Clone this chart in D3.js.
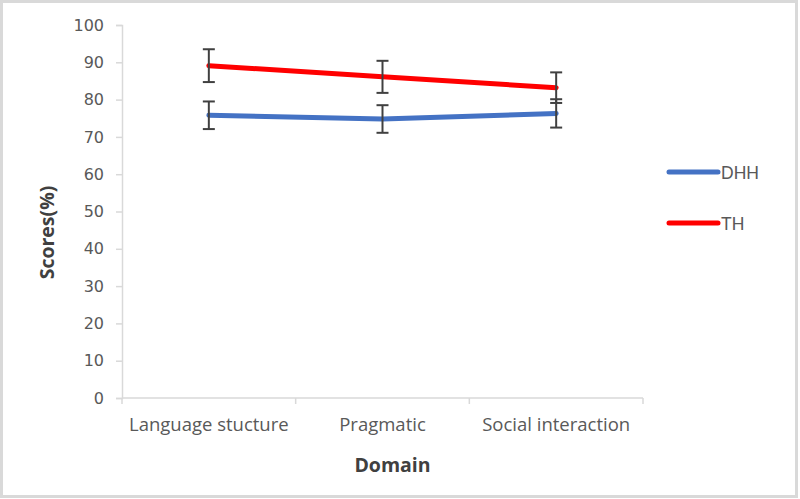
<!DOCTYPE html>
<html>
<head>
<meta charset="utf-8">
<script src="https://cdn.jsdelivr.net/npm/d3@7"></script>
<style>
  body { margin: 0; background: #fff; }
  svg { display: block; }
</style>
</head>
<body>
<div id="chart"></div>
<script>
// chart data
const domains = ["Language stucture", "Pragmatic", "Social interaction"];
const seriesNames = ["DHH", "TH"];
const dhhScores = [75.8, 74.8, 76.3];
const dhhErrors = [3.7, 3.7, 3.8];
const thScores = [89.1, 86.1, 83.2];
const thErrors = [4.4, 4.3, 4.1];
const yTicks = [0, 10, 20, 30, 40, 50, 60, 70, 80, 90, 100];
const colors = ["#4472C4", "#FF0000"];

const W = 800, H = 499;
const margin = { left: 122, right: 157, top: 25, bottom: 101 };
const w = W - margin.left - margin.right;
const h = H - margin.top - margin.bottom;

var svg = d3.select("#chart").append("svg")
  .attr("width", W)
  .attr("height", H);

// outer frame
svg.append("rect")
  .attr("x", 1.5).attr("y", 1.5)
  .attr("width", W - 5).attr("height", H - 4)
  .attr("fill", "#fff")
  .attr("stroke", "#d9d9d9")
  .attr("stroke-width", 3);

var g = svg.append("g")
  .attr("transform", "translate(" + margin.left + "," + margin.top + ")");

var x = d3.scaleBand().domain(domains).range([0, w]);
var y = d3.scaleLinear().domain([0, 100]).range([h, 0]);

// y axis
var yAxis = g.append("g")
  .call(d3.axisLeft(y).tickValues(yTicks).tickSize(6).tickPadding(12));
yAxis.select(".domain").attr("stroke", "#d9d9d9").attr("stroke-width", 1.5);
yAxis.selectAll(".tick line").attr("stroke", "#d9d9d9").attr("stroke-width", 1.5);
yAxis.selectAll("text")
  .attr("fill", "#595959")
  .style("font-family", "'DejaVu Sans', sans-serif")
  .style("font-size", "16px");

// x axis: ticks sit on the category boundaries
var xAxis = g.append("g").attr("transform", "translate(0," + h + ")");
xAxis.append("line")
  .attr("x1", 0).attr("x2", w)
  .attr("stroke", "#d9d9d9").attr("stroke-width", 1.5);
xAxis.selectAll("line.tk")
  .data([0].concat(domains.map(d => x(d) + x.bandwidth())))
  .enter().append("line")
  .attr("class", "tk")
  .attr("x1", d => d).attr("x2", d => d)
  .attr("y1", 0).attr("y2", 6)
  .attr("stroke", "#d9d9d9").attr("stroke-width", 1.5);
xAxis.selectAll("text")
  .data(domains)
  .enter().append("text")
  .attr("x", d => x(d) + x.bandwidth() / 2)
  .attr("y", 33)
  .attr("text-anchor", "middle")
  .attr("fill", "#595959")
  .style("font-family", "'Open Sans', sans-serif")
  .style("font-size", "18.5px")
  .text(d => d);

// axis titles (Excel puts them a little off centre)
g.append("text")
  .attr("transform", "translate(" + (-68) + "," + (h / 2 + 21) + ") rotate(-90)")
  .attr("text-anchor", "middle")
  .attr("fill", "#404040")
  .style("font-family", "'Open Sans', sans-serif")
  .style("font-size", "19.5px")
  .style("font-weight", "bold")
  .text("Scores(%)");
g.append("text")
  .attr("x", w / 2 + 10)
  .attr("y", h + 74)
  .attr("text-anchor", "middle")
  .attr("fill", "#404040")
  .style("font-family", "'Open Sans', sans-serif")
  .style("font-size", "19.5px")
  .style("font-weight", "bold")
  .text("Domain");

// series
const series = [
  { name: seriesNames[0], values: dhhScores, errs: dhhErrors, color: colors[0] },
  { name: seriesNames[1], values: thScores, errs: thErrors, color: colors[1] }
];

var line = d3.line()
  .x((d, i) => x(domains[i]) + x.bandwidth() / 2)
  .y(d => y(d));

series.forEach(function (s) {
  g.append("path")
    .datum(s.values)
    .attr("d", line)
    .attr("fill", "none")
    .attr("stroke", s.color)
    .attr("stroke-width", 5)
    .attr("stroke-linecap", "round")
    .attr("stroke-linejoin", "round");
});

// error bars drawn on top
series.forEach(function (s) {
  var eb = g.append("g");
  s.values.forEach(function (v, i) {
    var cx = x(domains[i]) + x.bandwidth() / 2;
    var top = y(v + s.errs[i]), bot = y(v - s.errs[i]);
    eb.append("line")
      .attr("x1", cx).attr("x2", cx).attr("y1", top).attr("y2", bot)
      .attr("stroke", "#404040").attr("stroke-width", 2);
    [top, bot].forEach(function (yy) {
      eb.append("line")
        .attr("x1", cx - 6).attr("x2", cx + 6).attr("y1", yy).attr("y2", yy)
        .attr("stroke", "#404040").attr("stroke-width", 2);
    });
  });
});

// legend
var legend = svg.append("g").attr("transform", "translate(669,172)");
series.forEach(function (s, i) {
  var lg = legend.append("g").attr("transform", "translate(0," + (i * 51) + ")");
  lg.append("line")
    .attr("x1", 0).attr("x2", 49)
    .attr("stroke", s.color).attr("stroke-width", 5)
    .attr("stroke-linecap", "round");
  lg.append("text")
    .attr("x", 52).attr("y", 6.5)
    .attr("fill", "#595959")
    .style("font-family", "'Liberation Sans', Arial, sans-serif")
    .style("font-size", "17.5px")
    .text(s.name);
});
</script>
</body>
</html>
